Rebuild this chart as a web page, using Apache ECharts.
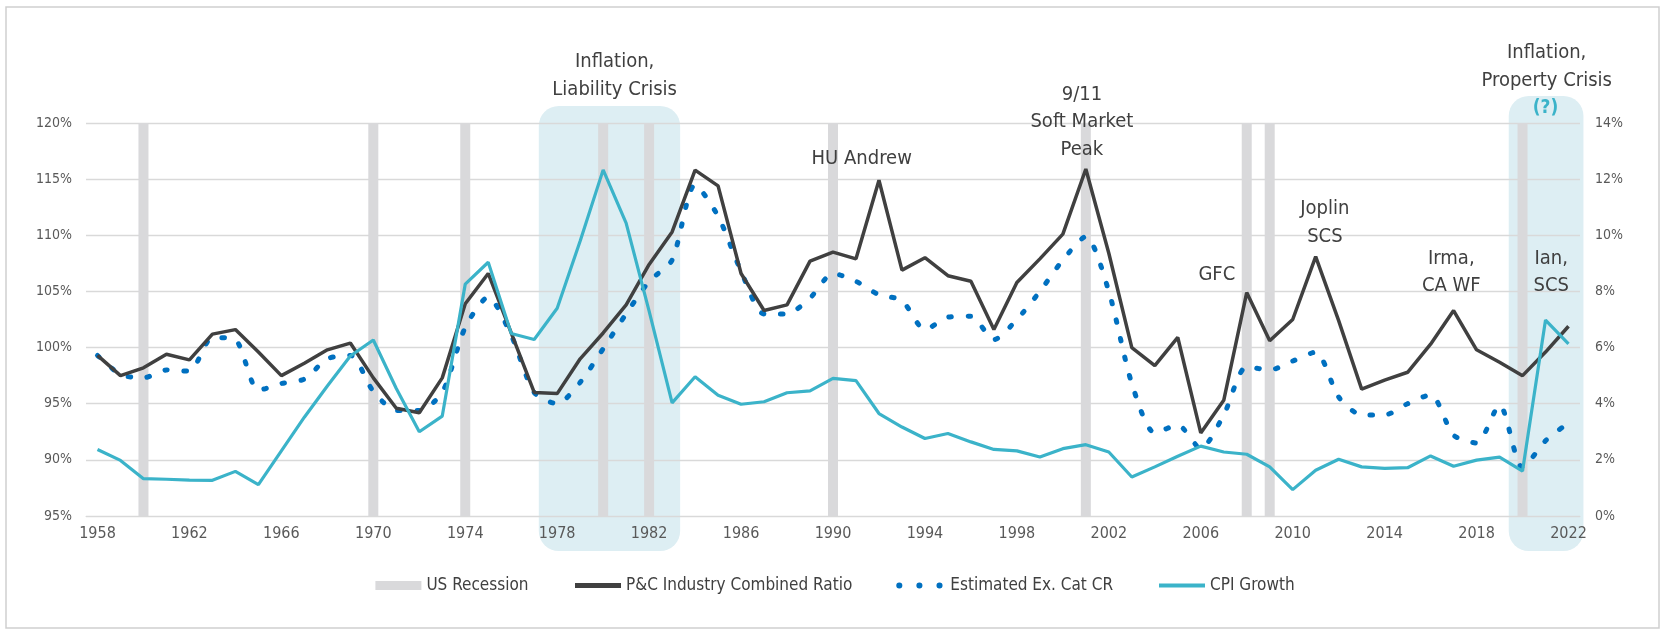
<!DOCTYPE html>
<html>
<head>
<meta charset="utf-8">
<title>P&C Combined Ratio vs CPI</title>
<script src="https://cdn.jsdelivr.net/npm/echarts@6/dist/echarts.min.js"></script>
<style>
  html, body { margin: 0; padding: 0; background: #fff; }
  #chart { width: 1670px; height: 640px; }
</style>
</head>
<body>
<div id="chart"></div>
<script>
// data
const years = ['1958','1959','1960','1961','1962','1963','1964','1965','1966','1967','1968','1969',
  '1970','1971','1972','1973','1974','1975','1976','1977','1978','1979',
  '1980','1981','1982','1983','1984','1985','1986','1987','1988','1989',
  '1990','1991','1992','1993','1994','1995','1996','1997','1998','1999',
  '2000','2001','2002','2003','2004','2005','2006','2007','2008','2009',
  '2010','2011','2012','2013','2014','2015','2016','2017','2018','2019',
  '2020','2021','2022']

const combinedRatio = [99.3, 97.5, 98.2, 99.4, 98.9, 101.2, 101.6, 99.6, 97.5, 98.6, 99.8, 100.4,
  97.3, 94.6, 94.2, 97.3, 103.9, 106.6, 101.3, 96.0, 95.9, 99.0,
  101.3, 103.8, 107.4, 110.3, 115.8, 114.4, 106.6, 103.3, 103.8, 107.7,
  108.5, 107.9, 114.9, 106.9, 108.0, 106.4, 105.9, 101.6, 105.8, 107.9,
  110.1, 115.9, 108.4, 100.0, 98.4, 100.9, 92.4, 95.3, 104.9, 100.6,
  102.5, 108.1, 102.4, 96.3, 97.1, 97.8, 100.3, 103.3, 99.8, 98.7,
  97.5, 99.6, 101.9]

const exCatCR = [99.3, 97.6, 97.3, 98.0, 97.9, 100.9, 100.7, 96.2, 96.8, 97.2, 99.0, 99.3,
  96.1, 94.4, 94.4, 96.0, 101.8, 104.5, 101.1, 96.0, 95.0, 96.9,
  99.9, 103.0, 105.9, 107.8, 114.5, 111.7, 106.8, 103.0, 103.0, 104.4,
  106.6, 105.9, 104.7, 104.2, 101.6, 102.7, 102.8, 100.7, 102.5, 105.0,
  107.8, 109.9, 105.0, 96.8, 92.4, 93.1, 91.0, 94.0, 98.3, 98.0,
  98.8, 99.6, 95.6, 94.0, 94.0, 95.0, 95.8, 92.2, 91.5, 94.9,
  89.3, 91.7, 93.3]

const cpiGrowth = [2.37, 1.98, 1.33, 1.31, 1.28, 1.27, 1.59, 1.12, 2.32, 3.52, 4.63, 5.70,
  6.27, 4.54, 3.00, 3.56, 8.26, 9.04, 6.50, 6.29, 7.40, 9.80,
  12.33, 10.43, 7.30, 4.03, 4.96, 4.30, 3.98, 4.07, 4.39, 4.46,
  4.90, 4.82, 3.65, 3.17, 2.76, 2.94, 2.64, 2.37, 2.32, 2.10,
  2.40, 2.54, 2.28, 1.39, 1.75, 2.13, 2.49, 2.28, 2.20, 1.75,
  0.94, 1.63, 2.02, 1.75, 1.70, 1.72, 2.14, 1.77, 1.99, 2.10,
  1.60, 6.98, 6.13]

const recessionYears = ['1960', '1970', '1974', '1980', '1982', '1990', '2001', '2008', '2009', '2020']

// left axis ticks (the bottom one reads 95% in the original)
const leftTickLabels = { 85: '95%', 90: '90%', 95: '95%', 100: '100%', 105: '105%', 110: '110%', 115: '115%', 120: '120%' }

// shaded periods, in fractional years
const crisisFrom = [1977.2, 2019.4]
const crisisTo = [1983.35, 2022.65]

// annotation text, anchored at (year, left-axis value)
const noteText = ['Inflation,\nLiability Crisis', 'HU Andrew', '9/11\nSoft Market\nPeak', 'GFC',
  'Joplin\nSCS', 'Irma,\nCA WF', 'Ian,\nSCS', 'Inflation,\nProperty Crisis']
const noteYear = [1980.5, 1991.25, 2000.83, 2006.7, 2011.4, 2016.9, 2021.25, 2021.05]
const noteValue = [124.2, 116.8, 120.1, 106.5, 111.1, 106.7, 106.7, 125.0]

const narrow = "'Liberation Sans Narrow', 'DejaVu Sans Condensed', sans-serif"
const textColor = '#404040'
const labelColor = '#595959'
const gridColor = '#d9d9d9'

const chart = echarts.init(document.getElementById('chart'))

const recessionData = years.map(y => (recessionYears.indexOf(y) > -1 ? 120 : '-'))

chart.setOption({
  animation: false,
  textStyle: { fontFamily: narrow },
  grid: { left: 86, right: 90, top: 123, bottom: 124 },
  legend: {
    bottom: 41,
    left: 'center',
    itemWidth: 46,
    itemHeight: 9,
    itemGap: 44,
    textStyle: { fontSize: 17, color: textColor, fontFamily: narrow },
    data: [
      { name: 'US Recession', icon: 'rect' },
      { name: 'P&C Industry Combined Ratio', itemStyle: { opacity: 0 }, lineStyle: { width: 5 } },
      {
        name: 'Estimated Ex. Cat CR',
        itemStyle: { opacity: 0 },
        lineStyle: { width: 6, type: [0.1, 20], cap: 'round', color: '#0070c0' }
      },
      { name: 'CPI Growth', itemStyle: { opacity: 0 }, lineStyle: { width: 4 } }
    ]
  },
  xAxis: {
    type: 'category',
    data: years,
    boundaryGap: true,
    axisLine: { lineStyle: { color: gridColor } },
    axisTick: { show: false },
    axisLabel: { interval: 3, color: labelColor, fontSize: 16, margin: 10, fontFamily: narrow }
  },
  yAxis: [
    {
      type: 'value',
      min: 85,
      max: 120,
      interval: 5,
      axisLine: { show: false },
      axisTick: { show: false },
      splitLine: { lineStyle: { color: gridColor, width: 1.3 } },
      axisLabel: {
        color: labelColor, fontSize: 14, margin: 14, fontFamily: narrow,
        formatter: v => leftTickLabels[v]
      }
    },
    {
      type: 'value',
      min: 0,
      max: 14,
      interval: 2,
      axisLine: { show: false },
      axisTick: { show: false },
      splitLine: { show: false },
      axisLabel: { color: labelColor, fontSize: 14, margin: 15, fontFamily: narrow, formatter: '{value}%' }
    }
  ],
  series: [
    {
      name: 'US Recession',
      type: 'bar',
      data: recessionData,
      barWidth: 10,
      itemStyle: { color: '#d9d9db' },
      z: 1
    },
    {
      name: 'P&C Industry Combined Ratio',
      type: 'line',
      data: combinedRatio,
      symbol: 'none',
      lineStyle: { color: '#404040', width: 3.5 },
      itemStyle: { color: '#404040' },
      z: 4
    },
    {
      name: 'Estimated Ex. Cat CR',
      type: 'line',
      data: exCatCR,
      symbol: 'none',
      smooth: 0.25,
      lineStyle: { color: '#0070c0', width: 5, type: [2.5, 16.5], cap: 'round' },
      itemStyle: { color: '#0070c0' },
      z: 3
    },
    {
      name: 'CPI Growth',
      type: 'line',
      yAxisIndex: 1,
      data: cpiGrowth,
      symbol: 'none',
      lineStyle: { color: '#3bb3c9', width: 3.2 },
      itemStyle: { color: '#3bb3c9' },
      z: 5
    }
  ]
})

// shaded boxes and annotations placed through the chart's own scales
function xAt(year) {
  const x0 = chart.convertToPixel({ xAxisIndex: 0 }, 0)
  const x1 = chart.convertToPixel({ xAxisIndex: 0 }, 1)
  return x0 + (year - 1958) * (x1 - x0)
}
function yAt(value) {
  return chart.convertToPixel({ yAxisIndex: 0 }, value)
}

const gridTop = yAt(120)
const gridBottom = yAt(85)
const graphics = []

graphics.push({
  type: 'rect',
  z: -10,
  silent: true,
  shape: { x: 6, y: 7, width: 1653, height: 621 },
  style: { fill: 'none', stroke: '#cfcfcf', lineWidth: 1.5 }
})

const boxTops = [gridTop - 17, gridTop - 27]
crisisFrom.forEach((from, i) => {
  const x0 = xAt(from)
  const x1 = xAt(crisisTo[i])
  graphics.push({
    type: 'rect',
    z: -5,
    silent: true,
    shape: { x: x0, y: boxTops[i], width: x1 - x0, height: gridBottom + 35 - boxTops[i], r: 20 },
    style: { fill: '#ddeef3' }
  })
})

noteText.forEach((t, i) => {
  graphics.push({
    type: 'text',
    z: 20,
    silent: true,
    style: {
      text: t,
      x: xAt(noteYear[i]),
      y: yAt(noteValue[i]),
      align: 'center',
      verticalAlign: 'middle',
      fontSize: 20,
      lineHeight: 27.5,
      fontFamily: narrow,
      fill: textColor
    }
  })
})

graphics.push({
  type: 'text',
  z: 20,
  silent: true,
  style: {
    text: '(?)',
    x: xAt(2021.0),
    y: yAt(121.35),
    align: 'center',
    verticalAlign: 'middle',
    fontSize: 19,
    fontWeight: 'bold',
    fontFamily: narrow,
    fill: '#3bb3c9'
  }
})

chart.setOption({ graphic: graphics })
</script>
</body>
</html>
